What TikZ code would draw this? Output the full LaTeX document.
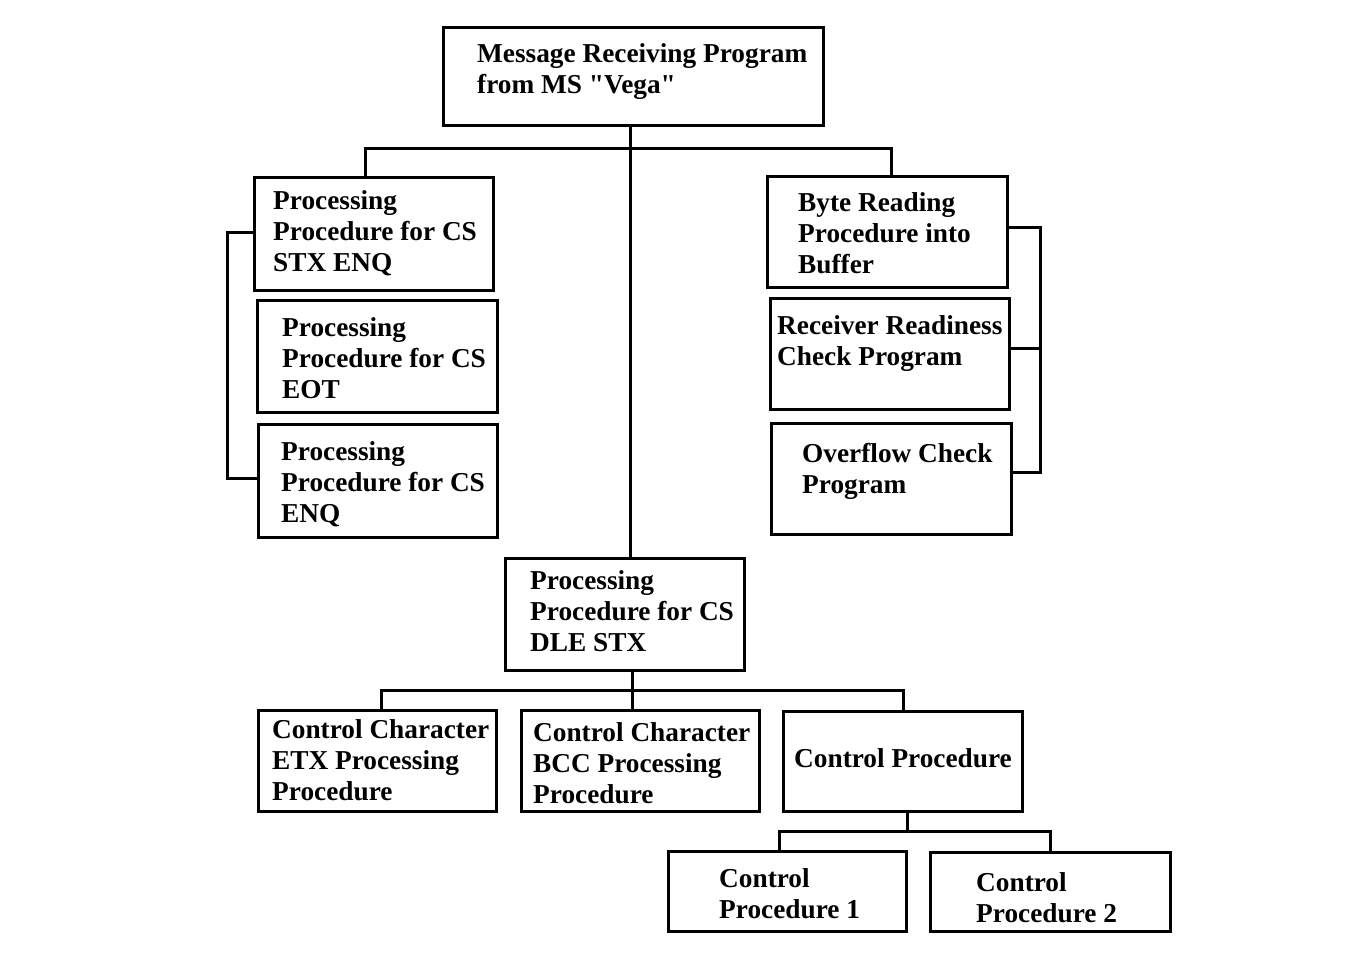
\documentclass[tikz,border=0pt]{standalone}
\usepackage{fontspec}
\setmainfont{Liberation Serif}[Ligatures=TeXOff]
\begin{document}
\begin{tikzpicture}[x=1pt,y=-1pt,
  box/.style={draw, line width=3pt, inner sep=0pt, outer sep=0pt},
  txt/.style={anchor=base west, align=left, inner sep=0pt, font=\fontsize{27.3}{31}\selectfont\bfseries},
  conn/.style={line width=3pt}]
\useasboundingbox (0,0) rectangle (1356,954);
% boxes
\node[box, minimum width=380pt, minimum height=98pt] (M) at (633,76) {};
\node[box, minimum width=239pt, minimum height=113pt] (B1) at (373.5,233.5) {};
\node[box, minimum width=240pt, minimum height=112pt] (B2) at (377,356) {};
\node[box, minimum width=239pt, minimum height=113pt] (B3) at (377.5,480.5) {};
\node[box, minimum width=240pt, minimum height=111pt] (R1) at (887,231.5) {};
\node[box, minimum width=239pt, minimum height=111pt] (R2) at (889.5,353.5) {};
\node[box, minimum width=240pt, minimum height=111pt] (R3) at (891,478.5) {};
\node[box, minimum width=239pt, minimum height=112pt] (D) at (624.5,614) {};
\node[box, minimum width=238pt, minimum height=101pt] (E) at (377,760.5) {};
\node[box, minimum width=238pt, minimum height=101pt] (BC) at (640,760.5) {};
\node[box, minimum width=239pt, minimum height=100pt] (CP) at (902.5,761) {};
\node[box, minimum width=238pt, minimum height=80pt] (C1) at (787,891) {};
\node[box, minimum width=240pt, minimum height=79pt] (C2) at (1050,891.5) {};
% texts (anchored at the baseline of the last line)
\node[txt] (Mt) at (477,93) {Message Receiving Program\\from MS "Vega"};
\node[txt] (B1t) at (273,271) {Processing\\Procedure for CS\\STX ENQ};
\node[txt] (B2t) at (282,398) {Processing\\Procedure for CS\\EOT};
\node[txt] (B3t) at (281,522) {Processing\\Procedure for CS\\ENQ};
\node[txt] (R1t) at (798,273) {Byte Reading\\Procedure into\\Buffer};
\node[txt] (R2t) at (777,365) {Receiver Readiness\\Check Program};
\node[txt] (R3t) at (802,493) {Overflow Check\\Program};
\node[txt] (Dt) at (530,651) {Processing\\Procedure for CS\\DLE STX};
\node[txt] (Et) at (272,800) {Control Character\\ETX Processing\\Procedure};
\node[txt] (BCt) at (533,803) {Control Character\\BCC Processing\\Procedure};
\node[txt] (CPt) at (794,767) {Control Procedure};
\node[txt] (C1t) at (719,918) {Control\\Procedure 1};
\node[txt] (C2t) at (976,922) {Control\\Procedure 2};
% junction coordinates
\coordinate (jm) at (630,148);
\coordinate (jl) at (365,148);
\coordinate (jr) at (891,148);
\coordinate (lb1) at (227,232);
\coordinate (lb3) at (227,478);
\coordinate (rb1) at (1040,227);
\coordinate (rb2) at (1040,348);
\coordinate (rb3) at (1040,472);
\coordinate (j2) at (632,690);
\coordinate (j2l) at (381,690);
\coordinate (j2r) at (903,690);
\coordinate (j3) at (907,831);
\coordinate (j3l) at (779,831);
\coordinate (j3r) at (1050,831);
% connectors
\draw[conn] (M.south -| jm) -- (D.north -| jm);
\draw[conn] (B1.north -| jl) -- (jl) -- (jr) -- (R1.north -| jr);
\draw[conn] (B1.west |- lb1) -- (lb1) -- (lb3) -- (B3.west |- lb3);
\draw[conn] (R1.east |- rb1) -- (rb1) -- (rb3) -- (R3.east |- rb3);
\draw[conn] (R2.east |- rb2) -- (rb2);
\draw[conn] (D.south -| j2) -- (BC.north -| j2);
\draw[conn] (E.north -| j2l) -- (j2l) -- (j2r) -- (CP.north -| j2r);
\draw[conn] (CP.south -| j3) -- (j3);
\draw[conn] (C1.north -| j3l) -- (j3l) -- (j3r) -- (C2.north -| j3r);
\end{tikzpicture}
\end{document}
